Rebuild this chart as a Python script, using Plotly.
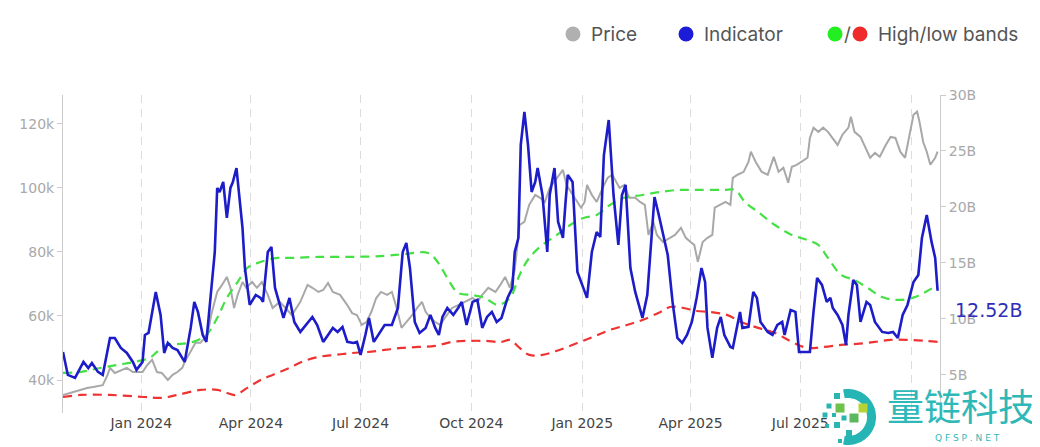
import numpy as np
import plotly.graph_objects as go

# ---------------- data ----------------
ind_dates = ["2023-10-28","2023-11-01","2023-11-07","2023-11-14","2023-11-18","2023-11-21","2023-11-26","2023-11-30",
"2023-12-06","2023-12-10","2023-12-15","2023-12-20","2023-12-25","2023-12-28","2024-01-02","2024-01-04","2024-01-07",
"2024-01-13","2024-01-17","2024-01-20","2024-01-23","2024-01-27","2024-01-31","2024-02-06","2024-02-11","2024-02-14",
"2024-02-17","2024-02-21","2024-02-24","2024-02-28","2024-03-02","2024-03-04","2024-03-06","2024-03-09","2024-03-12",
"2024-03-15","2024-03-17","2024-03-20","2024-03-25","2024-03-27","2024-03-31","2024-04-05","2024-04-09","2024-04-11",
"2024-04-15","2024-04-18","2024-04-21","2024-04-25","2024-04-28","2024-05-03","2024-05-07","2024-05-12","2024-05-17",
"2024-05-22","2024-05-26","2024-05-31","2024-06-04","2024-06-08","2024-06-12","2024-06-16","2024-06-20","2024-06-25",
"2024-06-28","2024-07-01","2024-07-05","2024-07-08","2024-07-12","2024-07-17","2024-07-21","2024-07-27","2024-08-01",
"2024-08-05","2024-08-08","2024-08-11","2024-08-15","2024-08-19","2024-08-24","2024-08-28","2024-09-01","2024-09-04",
"2024-09-07","2024-09-11","2024-09-16","2024-09-20","2024-09-23","2024-09-27","2024-10-02","2024-10-06","2024-10-10",
"2024-10-14","2024-10-18","2024-10-22","2024-10-26","2024-10-31","2024-11-04","2024-11-06","2024-11-09","2024-11-11",
"2024-11-14","2024-11-17","2024-11-20","2024-11-23","2024-11-25","2024-11-29","2024-12-03","2024-12-05","2024-12-09",
"2024-12-12","2024-12-16","2024-12-18","2024-12-20","2024-12-24","2024-12-28","2025-01-01","2025-01-05","2025-01-09",
"2025-01-13","2025-01-16","2025-01-19","2025-01-23","2025-01-24","2025-01-27","2025-01-31","2025-02-03","2025-02-06",
"2025-02-10","2025-02-14","2025-02-20","2025-02-24","2025-02-27","2025-03-02","2025-03-05","2025-03-13","2025-03-17",
"2025-03-21","2025-03-25","2025-03-29","2025-04-02","2025-04-06","2025-04-10","2025-04-13","2025-04-15","2025-04-19",
"2025-04-23","2025-04-26","2025-04-29","2025-05-04","2025-05-06","2025-05-09","2025-05-12","2025-05-14","2025-05-19",
"2025-05-23","2025-05-26","2025-05-29","2025-06-04","2025-06-08","2025-06-12","2025-06-16","2025-06-18","2025-06-23",
"2025-06-27","2025-06-30","2025-07-05","2025-07-09","2025-07-12","2025-07-15","2025-07-19","2025-07-23","2025-07-26",
"2025-07-28","2025-08-01","2025-08-05","2025-08-08","2025-08-10","2025-08-14","2025-08-17","2025-08-20","2025-08-25",
"2025-08-28","2025-09-01","2025-09-07","2025-09-12","2025-09-16","2025-09-20","2025-09-24","2025-09-28","2025-10-03",
"2025-10-07","2025-10-10","2025-10-14","2025-10-18","2025-10-21","2025-10-23"]
ind_vals = [7.05,5.0,4.73,6.16,5.62,6.07,5.27,5.0,
8.3,8.3,7.41,6.96,6.16,5.45,6.16,8.57,8.75,
12.41,10.36,6.96,7.86,7.41,7.23,6.16,9.2,11.52,
10.63,8.57,7.95,12.77,15.98,21.7,21.34,22.23,19.02,
21.7,22.23,23.48,18.13,14.55,11.25,12.14,11.88,11.52,
15.98,16.43,12.77,11.25,10.09,11.88,9.73,8.84,9.46,
10.18,9.46,7.95,8.57,9.2,8.84,9.29,7.95,7.86,
7.95,6.79,8.57,10.09,7.95,8.84,9.46,9.46,10.98,
15.98,16.79,14.55,9.73,8.75,9.2,10.36,9.2,8.57,
10.18,10.98,10.36,10.98,11.52,9.46,11.52,11.7,9.2,
10.18,10.63,9.73,10.09,11.88,12.77,15.98,17.23,25.54,
28.49,25.54,21.34,22.23,23.48,21.07,15.98,21.07,23.48,
18.66,17.23,20.18,22.86,22.23,14.2,13.04,11.88,15.98,
17.77,17.32,24.64,27.77,26.16,21.07,16.61,21.07,21.97,
14.55,12.41,10.09,12.14,16.61,20.89,19.55,15.71,11.52,
8.3,7.86,8.57,9.73,11.88,14.55,13.3,9.2,6.52,
9.2,10.18,8.57,7.5,7.41,9.2,10.63,9.2,9.29,
12.41,11.88,9.73,8.84,8.57,9.46,9.73,8.57,10.8,
10.63,7.05,7.05,7.05,10.63,13.66,13.04,11.52,11.88,
10.98,10.36,9.46,7.68,10.36,13.48,13.04,9.73,11.52,
11.25,9.73,8.84,8.75,8.84,8.3,10.36,11.25,13.3,
13.93,17.23,19.29,16.88,15.45,12.52]

price_dates = ["2023-10-28","2023-11-06","2023-11-12","2023-11-17","2023-11-22","2023-11-30","2023-12-04","2023-12-06",
"2023-12-10","2023-12-15","2023-12-20","2023-12-25","2023-12-29","2024-01-02","2024-01-06","2024-01-10","2024-01-14",
"2024-01-18","2024-01-23","2024-01-27","2024-01-31","2024-02-04","2024-02-06","2024-02-11","2024-02-15","2024-02-19",
"2024-02-25","2024-02-28","2024-03-04","2024-03-08","2024-03-12","2024-03-15","2024-03-18","2024-03-21","2024-03-25",
"2024-03-28","2024-04-02","2024-04-06","2024-04-10","2024-04-15","2024-04-19","2024-04-25","2024-05-02","2024-05-05",
"2024-05-12","2024-05-18","2024-05-22","2024-05-27","2024-05-31","2024-06-04","2024-06-08","2024-06-14","2024-06-20",
"2024-06-24","2024-06-28","2024-07-02","2024-07-06","2024-07-10","2024-07-14","2024-07-18","2024-07-23","2024-07-27",
"2024-07-31","2024-08-04","2024-08-08","2024-08-13","2024-08-17","2024-08-21","2024-08-24","2024-08-28","2024-09-01",
"2024-09-05","2024-09-09","2024-09-15","2024-09-20","2024-09-26","2024-10-02","2024-10-06","2024-10-10","2024-10-15",
"2024-10-21","2024-10-25","2024-10-29","2024-11-02","2024-11-06","2024-11-10","2024-11-14","2024-11-18","2024-11-23",
"2024-11-27","2024-12-01","2024-12-05","2024-12-11","2024-12-16","2024-12-19","2024-12-24","2024-12-28","2024-12-31",
"2025-01-03","2025-01-05","2025-01-09","2025-01-13","2025-01-18","2025-01-22","2025-01-26","2025-01-29","2025-02-01",
"2025-02-05","2025-02-09","2025-02-14","2025-02-18","2025-02-22","2025-02-25","2025-03-01","2025-03-04","2025-03-09",
"2025-03-15","2025-03-19","2025-03-24","2025-03-28","2025-04-01","2025-04-04","2025-04-07","2025-04-11","2025-04-15",
"2025-04-19","2025-04-21","2025-04-26","2025-04-30","2025-05-04","2025-05-06","2025-05-10","2025-05-15","2025-05-19",
"2025-05-21","2025-05-25","2025-05-30","2025-06-04","2025-06-06","2025-06-09","2025-06-13","2025-06-17","2025-06-21",
"2025-06-24","2025-06-28","2025-07-02","2025-07-07","2025-07-09","2025-07-12","2025-07-16","2025-07-20","2025-07-24",
"2025-07-28","2025-08-01","2025-08-05","2025-08-10","2025-08-12","2025-08-15","2025-08-20","2025-08-24","2025-08-28",
"2025-09-01","2025-09-05","2025-09-10","2025-09-14","2025-09-18","2025-09-22","2025-09-26","2025-09-30","2025-10-03",
"2025-10-06","2025-10-08","2025-10-11","2025-10-14","2025-10-17","2025-10-21","2025-10-23"]
price_vals = [35.3,36.3,36.9,37.5,37.8,38.4,41.6,43.8,
42.2,43.1,43.8,42.5,42.5,42.5,44.7,46.3,42.5,
42.2,40.0,41.6,42.5,43.8,45.6,48.8,51.6,51.6,
54.1,60.3,67.5,69.7,72.2,68.8,62.5,66.6,70.6,
68.8,70.6,68.8,70.6,66.6,62.5,64.4,61.3,60.3,
64.4,69.7,68.8,67.5,68.1,70.3,67.5,66.6,63.4,
60.9,60.3,57.2,58.1,61.3,65.6,67.5,66.6,67.5,
62.5,56.3,58.1,60.3,62.5,64.4,61.3,59.4,58.1,
57.2,59.4,62.5,63.4,64.4,65.6,64.4,66.6,68.8,
67.5,69.7,72.2,68.8,74.4,88.4,89.4,94.7,97.8,
96.9,95.6,100.0,103.1,105.6,100.9,97.8,95.6,93.8,
95.6,100.9,97.8,95.6,100.0,103.1,104.1,101.9,100.0,
100.9,96.9,96.9,95.6,94.7,85.3,89.4,85.3,83.1,
84.4,85.3,87.5,84.4,83.1,82.2,76.9,83.1,84.4,
85.3,93.8,94.7,95.6,94.7,103.1,104.1,105.0,108.1,
111.3,108.1,105.0,104.1,106.3,109.7,105.0,106.3,101.6,
106.6,107.2,108.1,109.4,115.6,118.8,117.5,118.8,117.5,
115.6,113.4,116.6,118.8,122.2,117.5,115.9,112.5,109.4,
110.9,109.7,113.4,115.9,115.6,111.3,109.4,116.6,122.8,
123.8,120.6,114.4,111.3,107.2,109.4,111.3]

high_dates = ["2023-10-28","2023-11-12","2023-11-28","2023-12-12","2023-12-26","2024-01-08","2024-01-14","2024-01-22",
"2024-02-02","2024-02-13","2024-02-24","2024-03-04","2024-03-12","2024-03-21","2024-03-29","2024-04-09","2024-04-23",
"2024-05-03","2024-05-27","2024-06-24","2024-07-21","2024-08-07","2024-08-26","2024-09-03","2024-09-11","2024-09-20",
"2024-10-02","2024-10-12","2024-10-23","2024-11-02","2024-11-10","2024-11-18","2024-11-29","2024-12-11","2024-12-22",
"2025-01-02","2025-01-13","2025-01-24","2025-02-04","2025-02-20","2025-03-07","2025-03-21","2025-04-06","2025-04-28",
"2025-05-08","2025-05-16","2025-05-27","2025-06-10","2025-06-24","2025-07-07","2025-07-16","2025-07-24","2025-08-04",
"2025-08-15","2025-08-26","2025-09-07","2025-09-20","2025-10-02","2025-10-13","2025-10-23"]
high_vals = [5.18,5.27,5.62,5.89,6.16,6.52,7.05,7.68,
7.77,7.95,8.57,10.09,11.88,13.3,14.55,15.09,15.45,
15.45,15.54,15.54,15.63,15.8,15.89,15.09,13.66,12.32,
12.14,11.88,11.25,11.88,13.93,15.45,16.61,17.5,18.39,
19.02,19.29,20.18,20.8,21.07,21.34,21.52,21.52,21.52,
21.52,20.45,19.55,18.39,17.5,17.05,16.61,15.45,13.93,
13.48,12.77,11.96,11.7,11.88,12.41,13.04]

low_dates = ["2023-10-28","2023-11-12","2023-12-06","2024-01-03","2024-01-17","2024-01-31","2024-02-19","2024-03-04",
"2024-03-12","2024-03-19","2024-03-29","2024-04-09","2024-04-19","2024-05-03","2024-05-13","2024-05-27","2024-06-10",
"2024-06-24","2024-07-07","2024-07-21","2024-08-04","2024-08-18","2024-09-01","2024-09-15","2024-09-28","2024-10-12",
"2024-10-26","2024-11-02","2024-11-10","2024-11-18","2024-11-29","2024-12-13","2024-12-28","2025-01-10","2025-01-24",
"2025-02-07","2025-02-20","2025-03-07","2025-03-15","2025-03-26","2025-04-06","2025-04-17","2025-05-01","2025-05-13",
"2025-05-27","2025-06-10","2025-06-24","2025-07-07","2025-07-21","2025-08-04","2025-08-17","2025-09-01","2025-09-14",
"2025-09-28","2025-10-13","2025-10-23"]
low_vals = [3.03,3.21,3.21,3.03,2.95,3.21,3.66,3.66,
3.39,3.21,3.84,4.55,5.0,5.62,6.16,6.61,6.79,
6.96,7.05,7.23,7.41,7.5,7.59,7.95,8.04,8.04,
7.95,8.13,7.41,6.79,6.79,7.23,7.86,8.39,9.02,
9.46,9.91,10.63,11.07,10.98,10.71,10.63,10.36,9.73,
9.2,8.75,7.95,7.41,7.5,7.68,7.77,7.95,8.13,
8.13,8.04,7.95]

x_tick_vals = ["2024-01-01","2024-04-01","2024-07-01","2024-10-01","2025-01-01","2025-04-01","2025-07-01","2025-10-01"]
x_tick_text = ["Jan 2024","Apr 2024","Jul 2024","Oct 2024","Jan 2025","Apr 2025","Jul 2025",""]
price_ticks = [40, 60, 80, 100, 120]
price_tick_text = ["40k", "60k", "80k", "100k", "120k"]
ind_ticks = [5, 10, 15, 20, 25, 30]
ind_tick_text = ["5B", "10B", "15B", "20B", "25B", "30B"]
last_label = "12.52B"

# ---------------- figure ----------------
fig = go.Figure()
fig.add_trace(go.Scatter(x=price_dates, y=price_vals, mode="lines", name="Price",
                         line=dict(color="#a8a8a8", width=2), yaxis="y"))
fig.add_trace(go.Scatter(x=high_dates, y=high_vals, mode="lines", name="High band",
                         line=dict(color="#44e044", width=2.2, dash="9px,6px", shape="spline"), yaxis="y2"))
fig.add_trace(go.Scatter(x=low_dates, y=low_vals, mode="lines", name="Low band",
                         line=dict(color="#ee3333", width=2.2, dash="9px,6px", shape="spline"), yaxis="y2"))
fig.add_trace(go.Scatter(x=ind_dates, y=ind_vals, mode="lines", name="Indicator",
                         line=dict(color="#1c1cc8", width=2.6), yaxis="y2"))

tick_font = dict(family="DejaVu Sans, Verdana, sans-serif", size=14, color="#a9a9a9")

# the page body adds an 8px margin, so the figure is sized to fit the 1040x447 window
fig.update_layout(
    width=1032, height=439, autosize=False,
    margin=dict(l=55, r=100, t=87, b=34),
    paper_bgcolor="white", plot_bgcolor="white",
    showlegend=False,
    xaxis=dict(type="date", range=["2023-10-28", "2025-10-25"],
               tickvals=x_tick_vals, ticktext=x_tick_text,
               showgrid=True, gridcolor="#dcdcdc", gridwidth=1, griddash="8px,6px",
               showline=False, zeroline=False, ticks="",
               tickfont=dict(family="DejaVu Sans, Verdana, sans-serif", size=14, color="#444444")),
    yaxis=dict(range=[29.7, 129], tickmode="array", tickvals=price_ticks, ticktext=price_tick_text,
               showgrid=False, zeroline=False, showline=True, linecolor="#cccccc", linewidth=1,
               ticks="outside", ticklen=5, tickcolor="#cccccc", tickfont=tick_font),
    yaxis2=dict(range=[1.6, 30], tickmode="array", tickvals=ind_ticks, ticktext=ind_tick_text,
                overlaying="y", side="right",
                showgrid=False, zeroline=False, showline=True, linecolor="#cccccc", linewidth=1,
                ticks="outside", ticklen=5, tickcolor="#cccccc", tickfont=tick_font),
)

# ---------------- legend (custom, top right) ----------------
legend_font = dict(family="Inter, Roboto, sans-serif", size=19, color="#555555")
dots = [(0.5815, "#b0b0b0"), (0.7104, "#1c1cd8"), (0.8803, "#22ee22"), (0.9088, "#ee2a2a")]
for xa, col in dots:
    fig.add_shape(type="circle", xref="paper", yref="paper", xsizemode="pixel", ysizemode="pixel",
                  xanchor=xa, yanchor=1.1918, x0=-7.5, x1=7.5, y0=-7.5, y1=7.5,
                  fillcolor=col, line=dict(width=0))
for xa, txt in [(0.5998, "Price"), (0.7286, "Indicator"), (0.927, "High/low bands")]:
    fig.add_annotation(x=xa, y=1.1918, xref="paper", yref="paper", text=txt, showarrow=False,
                       xanchor="left", yanchor="middle", font=legend_font)
fig.add_annotation(x=0.8945, y=1.1918, xref="paper", yref="paper", text="/", showarrow=False,
                   xanchor="center", yanchor="middle", font=legend_font)

# last value label
fig.add_annotation(x=1.0148, y=0.324, xref="paper", yref="paper", text=last_label, showarrow=False,
                   xanchor="left", yanchor="middle",
                   font=dict(family="DejaVu Sans, Verdana, sans-serif", size=19, color="#2e2eb8"))

# ---------------- watermark ----------------
logo_x, logo_y = 0.8951, -0.0126
theta = np.linspace(np.radians(100), np.radians(-100), 48)
ro, ri = 28, 19
pts = [(ro * np.cos(t), ro * np.sin(t)) for t in theta] + [(ri * np.cos(t), ri * np.sin(t)) for t in theta[::-1]]
path = "M " + " L ".join(f"{px:.1f},{py:.1f}" for px, py in pts) + " Z"
fig.add_shape(type="path", path=path, xref="paper", yref="paper", xsizemode="pixel", ysizemode="pixel",
              xanchor=logo_x, yanchor=logo_y, fillcolor="#26b5b5", line=dict(width=0))
squares = [(-11, 21, 6, "#2bb5b0"), (-19, 11, 5, "#2bb5b0"), (-8, 9, 9, "#6cc24a"), (15, 9, 9, "#b5d334"),
           (-23, 2, 5, "#2bb5b0"), (-14, 2, 4, "#2bb5b0"), (-4, -1, 5, "#2bb5b0"), (6, -1, 9, "#5cb85c"),
           (-11, -8, 6, "#2bb5b0"), (-21, -9, 4, "#2bb5b0"), (1, -16, 6, "#2bb5b0"), (-8, -24, 4, "#2bb5b0")]
for sx, sy, sz, col in squares:
    fig.add_shape(type="rect", xref="paper", yref="paper", xsizemode="pixel", ysizemode="pixel",
                  xanchor=logo_x, yanchor=logo_y, x0=sx - sz / 2, x1=sx + sz / 2, y0=sy - sz / 2, y1=sy + sz / 2,
                  fillcolor=col, line=dict(width=0))
fig.add_annotation(x=1.0239, y=0.026, xref="paper", yref="paper", text="量链科技", showarrow=False,
                   xanchor="center", yanchor="middle",
                   font=dict(family="Noto Sans CJK SC", size=37, color="#2fb8b8"))
fig.add_annotation(x=1.031, y=-0.078, xref="paper", yref="paper", text="Q F S P . N E T", showarrow=False,
                   xanchor="center", yanchor="middle",
                   font=dict(family="DejaVu Sans, sans-serif", size=9, color="#2fb8b8"))

fig.write_html("out.html")
